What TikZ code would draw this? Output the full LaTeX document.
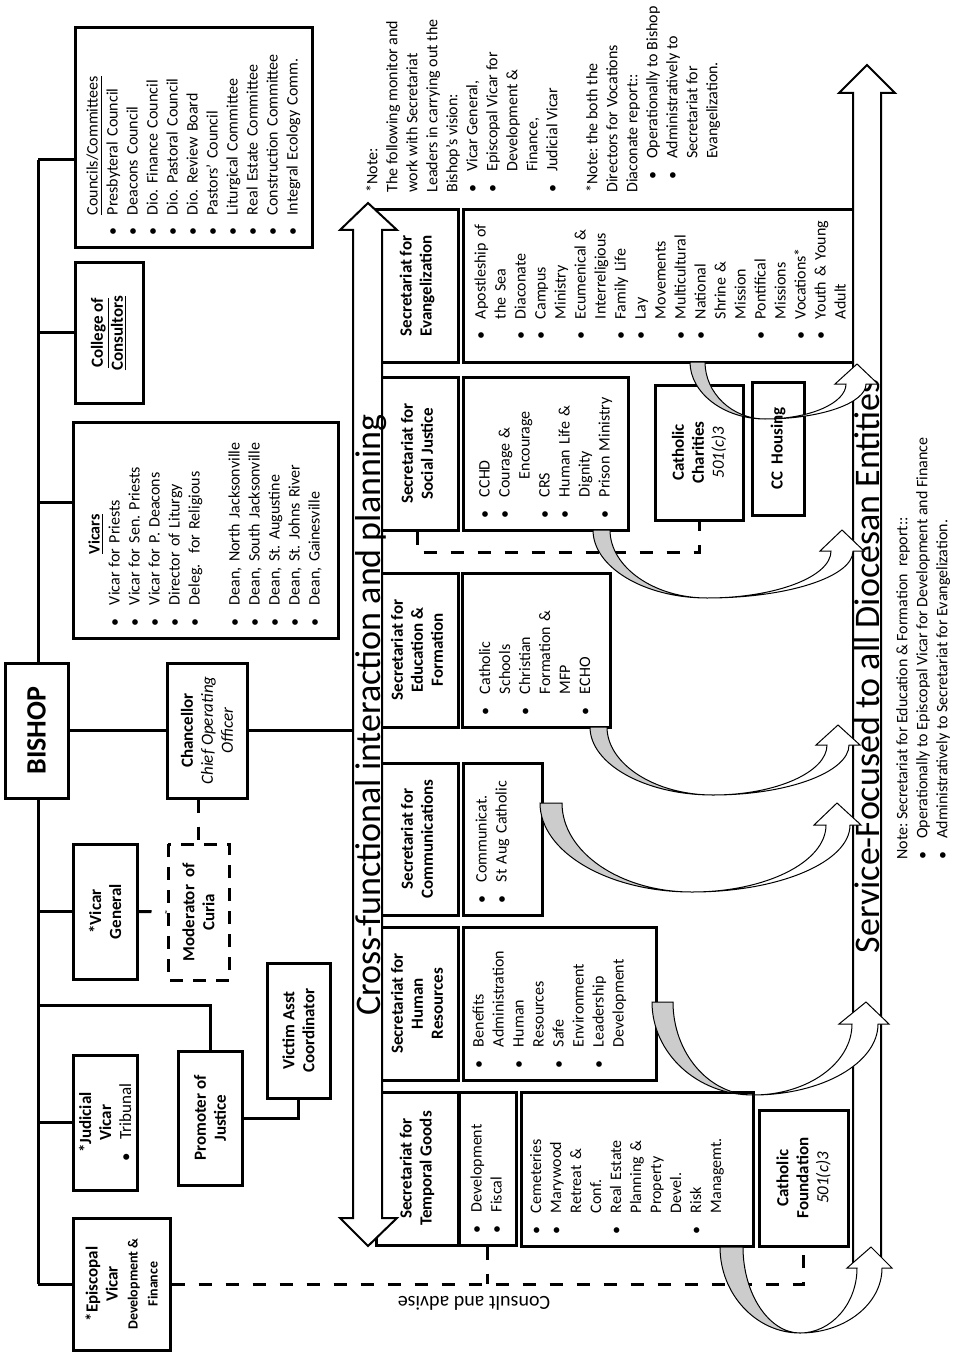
\documentclass[tikz,border=0pt]{standalone}
\usepackage{fontspec}
\setmainfont{Carlito}
\frenchspacing

\begin{document}
\begin{tikzpicture}[x={(0pt,-0.5pt)}, y={(-0.5pt,0pt)}, rotate=90, transform shape,
  box/.style={draw, line width=1.5pt, inner sep=1pt, align=center, font=\fontsize{8.5}{10}\selectfont\bfseries},
  dashbox/.style={box, dash pattern=on 6.5pt off 5pt},
  listbox/.style={draw, line width=1.5pt, inner xsep=6pt, inner ysep=3pt, align=left, font=\fontsize{8}{10}\selectfont},
  link/.style={line width=1.5pt},
  dashlink/.style={line width=1.5pt, dash pattern=on 6.5pt off 7pt},
  bigarrow/.style={draw, fill=white, line width=1pt},
  curvearrow/.style={draw, line width=0.5pt},
  note/.style={inner sep=0pt, anchor=north west, align=left, font=\fontsize{8}{10}\selectfont}]
  \fill[white] (0,0) rectangle (959,1353);
  \useasboundingbox (0,0) rectangle (959,1353);

  \node[box, minimum width=67.5pt, minimum height=31.5pt, font=\fontsize{14}{16}\selectfont\bfseries] (bishop) at (36.5,730.5) {BISHOP};
  \node[listbox, minimum width=110pt, minimum height=118.5pt, text width=98pt] (councils) at (193.5,138) {\begin{tabular}{@{}l@{\hspace{6.5pt}}l@{}}
    & \underline{Councils/Committees}\\
    \textbullet & Presbyteral Council\\
    \textbullet & Deacons Council\\
    \textbullet & Dio. Finance Council\\
    \textbullet & Dio. Pastoral Council\\
    \textbullet & Dio. Review Board\\
    \textbullet & Pastors' Council\\
    \textbullet & Liturgical Committee\\
    \textbullet & Real Estate Committee\\
    \textbullet & Construction Committee\\
    \textbullet & Integral Ecology Comm.
  \end{tabular}};
  \node[box, minimum width=70pt, minimum height=34pt] (college) at (109,333) {\underline{College of}\\\underline{Consultors}};
  \node[listbox, minimum width=108pt, minimum height=132.5pt, text width=96pt] (vicars) at (205.5,530) {\begin{tabular}{@{}l@{\hspace{6.5pt}}l@{}}
    \multicolumn{2}{c}{\textbf{\underline{Vicars}}}\\
    \textbullet & Vicar for Priests\\
    \textbullet & Vicar for Sen. Priests\\
    \textbullet & Vicar for P. Deacons\\
    \textbullet & Director of Liturgy\\
    \textbullet & Deleg.\ \ for Religious\\
    & \\
    \textbullet & Dean, North Jacksonville\\
    \textbullet & Dean, South Jacksonville\\
    \textbullet & Dean, St. Augustine\\
    \textbullet & Dean, St. Johns River\\
    \textbullet & Dean, Gainesville
  \end{tabular}};
  \node[box, minimum width=67.5pt, minimum height=40pt] (chancellor) at (207,730.5) {Chancellor\\{\mdseries\itshape Chief Operating}\\{\mdseries\itshape Officer}};
  \node[box, minimum width=67.5pt, minimum height=32pt] (vgeneral) at (105,911.5) {*Vicar\\General};
  \node[dashbox, minimum width=68pt, minimum height=30.5pt] (moderator) at (198.5,912) {Moderator\ \ of\\Curia};
  \node[box, minimum width=67pt, minimum height=32pt] (promoter) at (210,1118) {Promoter of\\Justice};
  \node[box, minimum width=67.5pt, minimum height=31.5pt] (victim) at (298.5,1030.5) {Victim Asst\\Coordinator};
  \node[box, minimum width=67.5pt, minimum height=32pt] (judicial) at (105,1122.5) {*Judicial\\Vicar\\{\mdseries\textbullet\hspace{6.5pt}Tribunal}};
  \node[box, minimum width=66pt, minimum height=48.5pt] (episcopal) at (121.5,1284) {*Episcopal\\Vicar\\{\fontsize{7}{8}\selectfont Development \&}\\{\fontsize{7}{8}\selectfont Finance}};

  \node[box, minimum width=76pt, minimum height=41pt] (hevang) at (417,286) {Secretariat for\\Evangelization};
  \node[box, minimum width=76.5pt, minimum height=41pt] (hsocial) at (417,453.5) {Secretariat for\\Social Justice};
  \node[box, minimum width=77pt, minimum height=41pt] (heduc) at (417,650) {Secretariat for\\Education \&\\Formation};
  \node[box, minimum width=76pt, minimum height=41pt] (hcomm) at (417,839) {Secretariat for\\Communications};
  \node[box, minimum width=76.5pt, minimum height=41pt] (hhr) at (417,1003.5) {Secretariat for\\Human\\Resources};
  \node[box, minimum width=76.5pt, minimum height=41pt] (htemp) at (417,1168.5) {Secretariat for\\Temporal Goods};

  \node[listbox, minimum width=76pt, minimum height=198.5pt, text width=54pt] (levang) at (661.5,286) {\begin{tabular}{@{}l@{\hspace{6.5pt}}l@{}}
    \textbullet & Apostleship of\\
    & the Sea\\
    \textbullet & Diaconate\\
    \textbullet & Campus\\
    & Ministry\\
    \textbullet & Ecumenical \&\\
    & Interreligious\\
    \textbullet & Family Life\\
    \textbullet & Lay\\
    & Movements\\
    \textbullet & Multicultural\\
    \textbullet & National\\
    & Shrine \&\\
    & Mission\\
    \textbullet & Pontifical\\
    & Missions\\
    \textbullet & Vocations*\\
    \textbullet & Youth \& Young\\
    & Adult
  \end{tabular}};
  \node[listbox, minimum width=76.5pt, minimum height=82.5pt, text width=64.5pt] (lsocial) at (545.5,453.5) {\begin{tabular}{@{}l@{\hspace{6.5pt}}l@{}}
    \textbullet & CCHD\\
    \textbullet & Courage \&\\
    & \hspace{9pt}Encourage\\
    \textbullet & CRS\\
    \textbullet & Human Life \&\\
    & Dignity\\
    \textbullet & Prison Ministry
  \end{tabular}};
  \node[listbox, minimum width=77pt, minimum height=74pt, text width=65pt] (leduc) at (536,650) {\begin{tabular}{@{}l@{\hspace{6.5pt}}l@{}}
    \textbullet & Catholic\\
    & Schools\\
    \textbullet & Christian\\
    & Formation \&\\
    & MFP\\
    \textbullet & ECHO
  \end{tabular}};
  \node[listbox, minimum width=76pt, minimum height=39.5pt, text width=64pt] (lcomm) at (502.5,839) {\begin{tabular}{@{}l@{\hspace{6.5pt}}l@{}}
    \textbullet & Communicat.\\
    \textbullet & St Aug Catholic\\
    &
  \end{tabular}};
  \node[listbox, minimum width=76.5pt, minimum height=96.5pt, text width=64.5pt] (lhr) at (559.5,1003.5) {\begin{tabular}{@{}l@{\hspace{6.5pt}}l@{}}
    \textbullet & Benefits\\
    & Administration\\
    \textbullet & Human\\
    & Resources\\
    \textbullet & Safe\\
    & Environment\\
    \textbullet & Leadership\\
    & Development\\
    &
  \end{tabular}};
  \node[listbox, minimum width=76.5pt, minimum height=28.5pt, text width=64.5pt] (ldevel) at (487.5,1168.5) {\begin{tabular}{@{}l@{\hspace{6.5pt}}l@{}}
    \textbullet & Development\\
    \textbullet & Fiscal
  \end{tabular}};
  \node[listbox, minimum width=77pt, minimum height=116pt, text width=65pt] (lcemet) at (637,1169) {\begin{tabular}{@{}l@{\hspace{6.5pt}}l@{}}
    \textbullet & Cemeteries\\
    \textbullet & Marywood\\
    & Retreat \&\\
    & Conf.\\
    \textbullet & Real Estate\\
    & Planning \&\\
    & Property\\
    & Devel.\\
    \textbullet & Risk\\
    & Managemt.\\
    &
  \end{tabular}};
  \node[box, minimum width=67.5pt, minimum height=44pt] (charities) at (699,452.5) {Catholic\\Charities\\{\mdseries\itshape 501(c)3}};
  \node[box, minimum width=66.5pt, minimum height=26pt] (housing) at (778,448.5) {CC\ \ Housing};
  \node[box, minimum width=68pt, minimum height=44.5pt] (foundation) at (803.5,1178) {Catholic\\Foundation\\{\mdseries\itshape 501(c)3}};

  \coordinate (spinetop) at (38,160);
  \coordinate (spinebot) at (38,1284);
  \coordinate (jvicars) at (38,502);
  \coordinate (jpromoter) at (38,1005);
  \coordinate (crossleft) at (353,230);
  \coordinate (jcharities) at (699,552);
  \draw[link] (spinetop) -- (spinetop -| bishop.east);
  \draw[link] (spinetop -| bishop.west) -- (spinebot);
  \draw[link] (spinetop) -- (councils.north -| spinetop);
  \draw[link] (spinetop -| college.north) -- (college.north);
  \draw[link] (jvicars) -- (vicars.north -| jvicars);
  \draw[link] (bishop.south) -- (chancellor.north);
  \draw[link] (chancellor.south) -- (crossleft -| chancellor.south);
  \draw[link] (spinetop -| vgeneral.north) -- (vgeneral.north);
  \draw[link] (jpromoter) |- (promoter.east);
  \draw[link] (promoter.south) |- (victim.west);
  \draw[link] (spinetop -| judicial.north) -- (judicial.north);
  \draw[link] (spinebot) -- (episcopal.north);
  \draw[dashlink] (vgeneral.south) -- (moderator.north);
  \draw[dashlink] (moderator.east -| chancellor.west) -- (moderator.east);
  \draw[dashlink] (episcopal.south) -- (foundation.west -| episcopal.south) -- (foundation.west);
  \draw[dashlink] (ldevel.west) -- (ldevel.west -| episcopal.south);
  \draw[dashlink] (hsocial.west) -| (jcharities) -- (charities.west);

  \draw[bigarrow] (353,230) -- (340,230) -- (368,203) -- (397,230) -- (382,230) -- (382,1218) -- (397,1218) -- (368,1246) -- (340,1218) -- (353,1218) -- cycle;
  \node[inner sep=0pt, anchor=base, font=\fontsize{18}{20}\selectfont] (crosstext) at (380,715) {Cross-functional interaction and planning};
  \draw[bigarrow] (853,1262) -- (853,93) -- (839,93) -- (867,65) -- (895,93) -- (881,93) -- (881,1262) -- cycle;
  \node[inner sep=0pt, anchor=base, font=\fontsize{18}{20}\selectfont] (servicetext) at (879,666) {Service-Focused to all Diocesan Entities};

  \draw[curvearrow, fill=gray!40] (720,1247) .. controls (720,1294) and (756,1333) .. (800,1333) .. controls (769,1333) and (743,1294) .. (743,1247) -- cycle;
  \draw[curvearrow, fill=white] (800,1333) .. controls (831,1333) and (857,1304) .. (857,1268) -- (847,1268) -- (871,1247) -- (892,1268) -- (882,1268) .. controls (882,1304) and (845,1333) .. (800,1333) -- cycle;
  \draw[curvearrow, fill=gray!40] (652,1002) .. controls (652,1053) and (697,1095) .. (753,1095) .. controls (709,1095) and (673,1053) .. (673,1002) -- cycle;
  \draw[curvearrow, fill=white] (753,1095) .. controls (808,1095) and (852,1063) .. (852,1024) -- (839,1024) -- (866,1002) -- (889,1024) -- (878,1024) .. controls (878,1063) and (822,1095) .. (753,1095) -- cycle;
  \draw[curvearrow, fill=gray!40] (540,803) .. controls (540,852) and (608,892) .. (692,892) .. controls (620,892) and (562,852) .. (562,803) -- cycle;
  \draw[curvearrow, fill=white] (692,892) .. controls (766,892) and (826,862) .. (826,825) -- (814,825) -- (837,803) -- (861,825) -- (850,825) .. controls (850,862) and (779,892) .. (692,892) -- cycle;
  \draw[curvearrow, fill=gray!40] (590,727) .. controls (590,764) and (645,795) .. (713,795) .. controls (655,795) and (607,764) .. (607,727) -- cycle;
  \draw[curvearrow, fill=white] (713,795) .. controls (776,795) and (827,772) .. (827,745) -- (816,745) -- (838,725) -- (860,745) -- (849,745) .. controls (849,772) and (788,795) .. (713,795) -- cycle;
  \draw[curvearrow, fill=gray!40] (593,530) .. controls (593,567) and (644,598) .. (707,598) .. controls (654,598) and (610,567) .. (610,530) -- cycle;
  \draw[curvearrow, fill=white] (707,598) .. controls (775,598) and (831,577) .. (831,551) -- (820,551) -- (842,530) -- (864,551) -- (853,551) .. controls (853,577) and (787,598) .. (707,598) -- cycle;
  \draw[curvearrow, fill=gray!40] (690,362) .. controls (690,393) and (724,419) .. (765,419) .. controls (732,419) and (705,393) .. (705,362) -- cycle;
  \draw[curvearrow, fill=white] (765,419) .. controls (810,419) and (846,403) .. (846,384) -- (835,384) -- (857,364) -- (878,384) -- (866,384) .. controls (866,403) and (821,419) .. (765,419) -- cycle;

  \node[note] (note1) at (363,193) {\begin{tabular}{@{}l@{\hspace{6.5pt}}l@{}}
    \multicolumn{2}{@{}l@{}}{*Note:}\\
    \multicolumn{2}{@{}l@{}}{The following monitor and}\\
    \multicolumn{2}{@{}l@{}}{work with Secretariat}\\
    \multicolumn{2}{@{}l@{}}{Leaders in carrying out the}\\
    \multicolumn{2}{@{}l@{}}{Bishop's vision:}\\
    \textbullet & Vicar General,\\
    \textbullet & Episcopal Vicar for\\
    & Development \&\\
    & Finance,\\
    \textbullet & Judicial Vicar
  \end{tabular}};
  \node[note] (note2) at (583,193) {\begin{tabular}{@{}l@{\hspace{6.5pt}}l@{}}
    \multicolumn{2}{@{}l@{}}{*Note: the both the}\\
    \multicolumn{2}{@{}l@{}}{Directors for Vocations}\\
    \multicolumn{2}{@{}l@{}}{Diaconate report::}\\
    \hspace{6.5pt}\textbullet & Operationally to Bishop\\
    \hspace{6.5pt}\textbullet & Administratively to\\
    & Secretariat for\\
    & Evangelization.
  \end{tabular}};
  \node[note] (note3) at (893,860) {\begin{tabular}{@{}l@{\hspace{6.5pt}}l@{}}
    \multicolumn{2}{@{}l@{}}{Note: Secretariat for Education \& Formation\ \ report::}\\
    \textbullet & Operationally to Episcopal Vicar for Development and Finance\\
    \textbullet & Administratively to Secretariat for Evangelization.
  \end{tabular}};
  \node[rotate=90, inner sep=0pt, font=\fontsize{10}{12}\selectfont] (consult) at (474,1303) {Consult and advise};
\end{tikzpicture}
\end{document}
